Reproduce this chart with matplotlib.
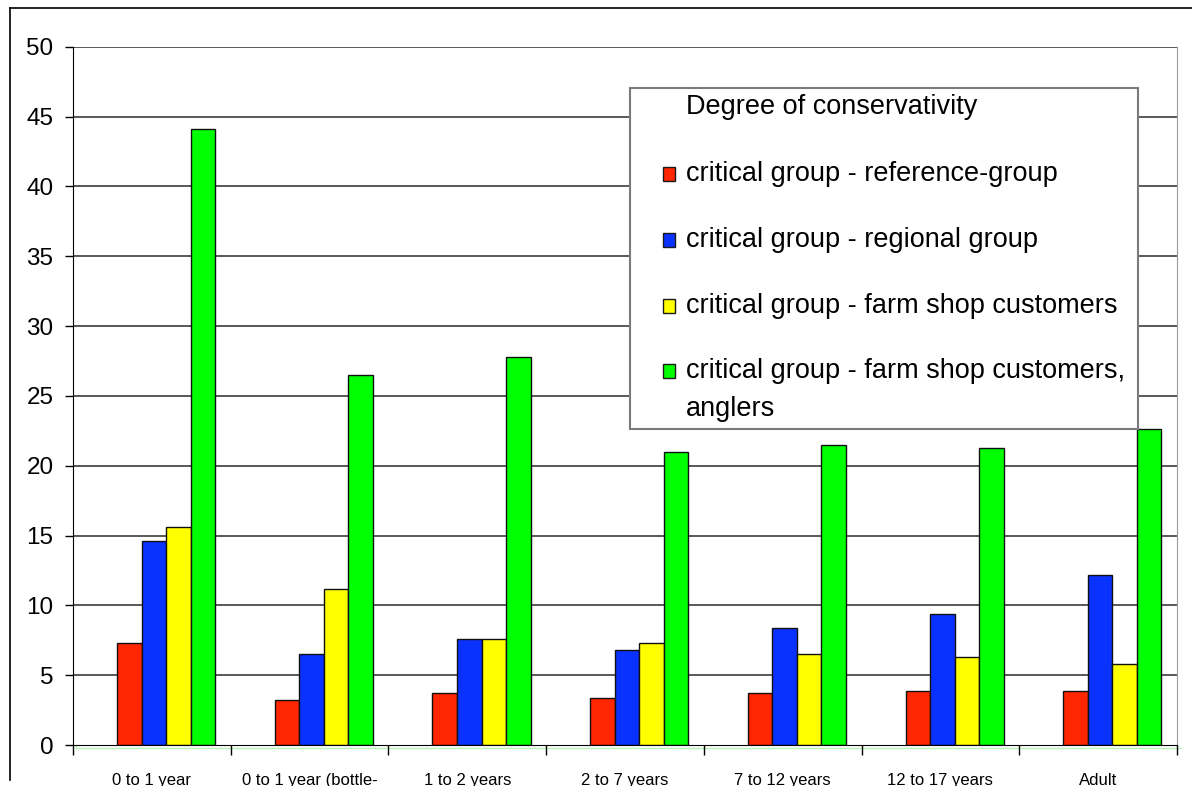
import numpy as np
import matplotlib.pyplot as plt
from matplotlib.patches import Rectangle
from matplotlib.lines import Line2D

plt.rcParams['font.family'] = ['Liberation Sans', 'DejaVu Sans']

categorias = ["0 to 1 year", "0 to 1 year (bottle-", "1 to 2 years", "2 to 7 years",
              "7 to 12 years", "12 to 17 years", "Adult"]
grupos = ["critical group - reference-group",
          "critical group - regional group",
          "critical group - farm shop customers",
          "critical group - farm shop customers,\nanglers"]
referencia = [7.3, 3.2, 3.7, 3.4, 3.7, 3.9, 3.9]
regional = [14.6, 6.5, 7.6, 6.8, 8.4, 9.4, 12.2]
tienda = [15.6, 11.2, 7.6, 7.3, 6.5, 6.3, 5.8]
pescadores = [44.1, 26.5, 27.8, 21.0, 21.5, 21.3, 22.6]
colores = ['#ff2600', '#0a32ff', '#ffff00', '#00ff00']
titulo_leyenda = "Degree of conservativity"

W, H = 1192, 786
fig = plt.figure(figsize=(W/100, H/100), dpi=100)
ax = fig.add_axes([73/W, 1-745/H, (1177-73)/W, (745-46.7)/H])

x = np.arange(len(categorias))
ancho = 0.1555
inicio = -0.143
series = [referencia, regional, tienda, pescadores]
for k in range(4):
    ax.bar(x + inicio + k*ancho, series[k], ancho, color=colores[k],
           edgecolor='#111111', linewidth=1.0, zorder=3)

ax.set_xlim(-0.5, len(categorias) - 0.5)
ax.set_ylim(0, 50)
ax.set_yticks(np.arange(0, 51, 5))
for v in np.arange(5, 51, 5):
    ax.axhline(v, color='#3c3c3c', linewidth=1.2, zorder=1)

# marcas en los limites de categoria, etiquetas en el centro
ax.set_xticks(x)
ax.set_xticklabels(categorias, fontsize=12, va='top')
ax.set_xticks(np.arange(-0.5, len(categorias)), minor=True)
ax.tick_params(axis='x', which='major', length=0, pad=20)
ax.tick_params(axis='x', which='minor', length=7, width=1, color='black')
ax.tick_params(axis='y', length=6, width=1, pad=8, labelsize=17.5)

ax.spines['top'].set_visible(False)
ax.spines['right'].set_color('#9a9a9a')
ax.spines['left'].set_color('black')
ax.spines['bottom'].set_color('black')
ax.spines['left'].set_zorder(4)
ax.spines['bottom'].set_zorder(4)

# lineas verdes claras junto a los ejes
fig.add_artist(Line2D([76/W, 76/W], [1-49/H, 1-748/H], color='#b8f5b8', linewidth=1, zorder=0))
fig.add_artist(Line2D([76/W, 1181/W], [1-748/H, 1-748/H], color='#b8f5b8', linewidth=1, zorder=0))

# marco exterior
fig.add_artist(Line2D([10/W, 1.0], [1-8/H, 1-8/H], color='black', linewidth=1.2))
fig.add_artist(Line2D([10/W, 10/W], [1-8/H, 1-780/H], color='black', linewidth=1.2))

# leyenda
fig.add_artist(Rectangle((630/W, 1-429/H), (1138-630)/W, (429-88)/H,
                         transform=fig.transFigure, facecolor='white',
                         edgecolor='#7a7a7a', linewidth=1.5, zorder=10))
fig.text(686/W, 1-107/H, titulo_leyenda, fontsize=19.5, va='center', ha='left', zorder=11)
ys = [174, 240, 306, 371]
for k in range(4):
    fig.add_artist(Rectangle((663/W, 1-(ys[k]+7)/H), 12/W, 14/H,
                             transform=fig.transFigure, facecolor=colores[k],
                             edgecolor='#1a1a1a', linewidth=1, zorder=11))
    lineas = grupos[k].split("\n")
    for j, t in enumerate(lineas):
        fig.text(686/W, 1-(ys[k]+38*j)/H, t, fontsize=19.5, va='center', ha='left', zorder=11)

plt.savefig("out.png", dpi=100)
